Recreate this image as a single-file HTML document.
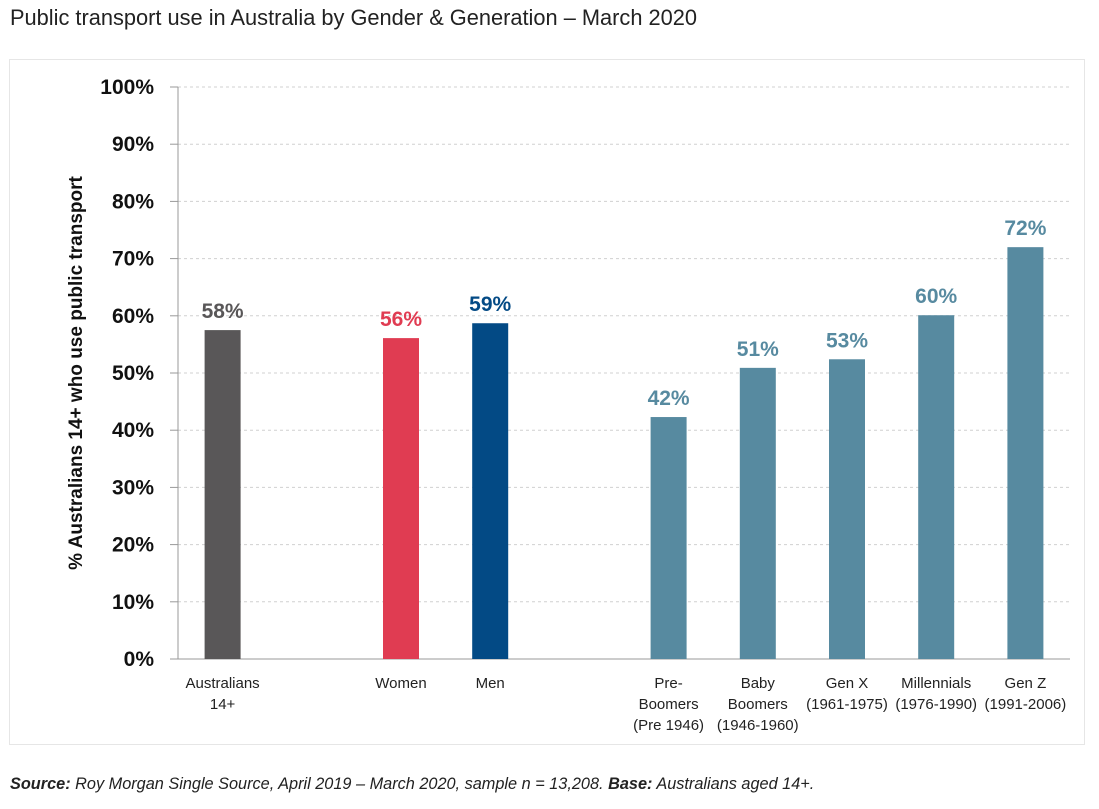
<!DOCTYPE html>
<html><head><meta charset="utf-8"><style>
body{margin:0;background:#fff;width:1099px;height:809px;overflow:hidden;font-family:"Liberation Sans",sans-serif;}
#title{position:absolute;left:10px;top:5px;font-size:21.8px;color:#222;}
#box{position:absolute;left:9px;top:59px;width:1076px;height:686px;border:1px solid #e6e6e6;box-sizing:border-box;}
#src{position:absolute;left:10px;top:775px;font-size:16.3px;font-style:italic;color:#222;}
svg{position:absolute;left:0;top:0;}
</style></head><body>
<div id="title">Public transport use in Australia by Gender &amp; Generation – March 2020</div>
<div id="box"></div>
<svg id="chart" width="1099" height="809"></svg>
<div id="src"><b>Source:</b> Roy Morgan Single Source, April 2019 – March 2020, sample n = 13,208. <b>Base:</b> Australians aged 14+.</div>
<script>
const categories=[["Australians","14+"],["Women"],["Men"],["Pre-","Boomers","(Pre 1946)"],["Baby","Boomers","(1946-1960)"],["Gen X","(1961-1975)"],["Millennials","(1976-1990)"],["Gen Z","(1991-2006)"]];
const slots=[0,2,3,5,6,7,8,9];
const values=[57.5,56.1,58.7,42.3,50.9,52.4,60.1,72.0];
const valueLabels=["58%","56%","59%","42%","51%","53%","60%","72%"];
const colors=["#595758","#e03c52","#034a85","#578aa0","#578aa0","#578aa0","#578aa0","#578aa0"];
const ticks=[0,10,20,30,40,50,60,70,80,90,100];
const NS="http://www.w3.org/2000/svg";
const svg=document.getElementById('chart');
const x0=178,x1=1070,y0=659,y1=87;
const slotW=(x1-x0)/10;
const y=v=>y0-(v/100)*(y0-y1);
const xc=s=>x0+slotW*(s+0.5);
function mk(t,a){const e=document.createElementNS(NS,t);for(const k in a)e.setAttribute(k,a[k]);svg.appendChild(e);return e;}
ticks.forEach(t=>{
  if(t>0){const g=mk('line',{x1:x0,x2:x1,y1:y(t),y2:y(t),stroke:'#d0d0d0','stroke-dasharray':'3,3'});
  
  }
  const tm=mk('line',{x1:x0-8,x2:x0,y1:y(t),y2:y(t),stroke:'#999'});
  
  
  const tx=mk('text',{x:x0-24,y:y(t)+7,'text-anchor':'end','font-size':'21','font-weight':'bold',fill:'#111'});
  tx.textContent=t+'%';
  
  
});
const ax=mk('line',{x1:x0,x2:x0,y1:y1,y2:y0,stroke:'#999'});


const xa=mk('line',{x1:x0,x2:x1,y1:y0,y2:y0,stroke:'#999'});


const yt=mk('text',{x:0,y:0,transform:'translate(82,373) rotate(-90)','text-anchor':'middle','font-size':'19','font-weight':'bold',fill:'#111'});
yt.textContent='% Australians 14+ who use public transport';


values.forEach((v,i)=>{
  const cx=xc(slots[i]);
  const r=mk('rect',{x:cx-18,y:y(v),width:36,height:y0-y(v),fill:colors[i]});
  
  
  const l=mk('text',{x:cx,y:y(v)-12,'text-anchor':'middle','font-size':'21','font-weight':'bold',fill:colors[i]});
  l.textContent=valueLabels[i];
  
  
  categories[i].forEach((ln,j)=>{
    const c=mk('text',{x:cx,y:688+j*21,'text-anchor':'middle','font-size':'15',fill:'#222'});
    c.textContent=ln;
    
    
  });
});
</script>
</body></html>
